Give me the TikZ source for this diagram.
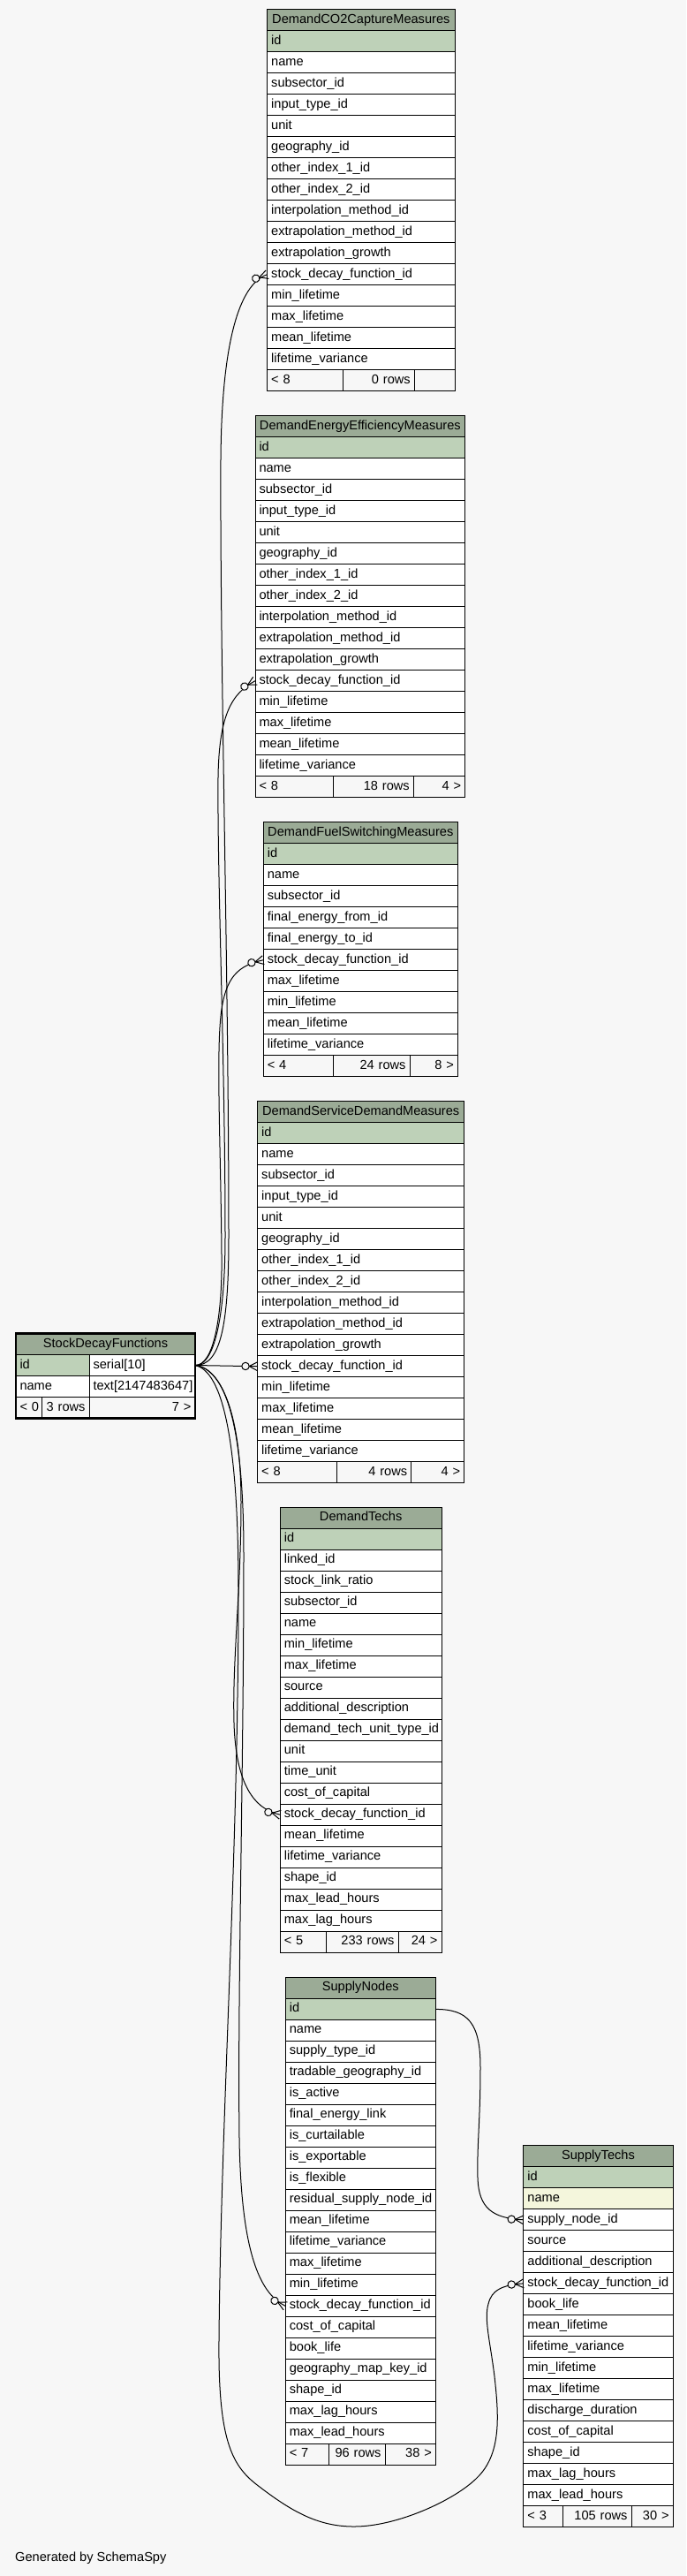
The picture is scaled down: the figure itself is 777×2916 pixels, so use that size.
\documentclass[tikz,border=0pt]{standalone}
\usepackage{fontspec}
\setmainfont{Liberation Sans}
\usepackage{tikz}
\usetikzlibrary{positioning}
\usetikzlibrary{backgrounds}
\usetikzlibrary{decorations.markings}
\definecolor{bgc}{HTML}{F7F7F7}
\definecolor{hdc}{HTML}{9BAB96}
\definecolor{pkc}{HTML}{BED1B8}
\definecolor{ixc}{HTML}{F4F6DC}
\definecolor{ftc}{HTML}{F7F7F7}
\hyphenpenalty=10000
\tikzset{every picture/.style={line width=1pt,show background rectangle,inner frame sep=0pt},background rectangle/.style={fill=bgc}}

\begin{document}
\begin{tikzpicture}[x=1pt,y=-1pt,font=\fontsize{14.6pt}{17pt}\selectfont,
	cell/.style={draw,outer sep=0pt,inner xsep=4.5pt,inner ysep=0pt,minimum height=24pt,text height=11pt,text depth=4pt},
	hd/.style={cell,fill=hdc,minimum width=#1},
	pk/.style={cell,fill=pkc,text width=#1,align=left},
	col/.style={cell,fill=white,text width=#1,align=left},
	ix/.style={cell,fill=ixc,text width=#1,align=left},
	ftl/.style={cell,fill=ftc,text width=#1,align=left},
	ftr/.style={cell,fill=ftc,text width=#1,align=right},
	rel/.style={postaction={decorate,decoration={markings,mark=at position 0 with {\draw (9.5pt,0pt) -- (0pt,5pt) (9.5pt,0pt) -- (0pt,-5pt); \draw[fill=bgc] (13.7pt,0pt) circle (4.2pt);}}}}]
\useasboundingbox (0,0) rectangle (777,2916);

% DemandCO2CaptureMeasures
\node[hd=212.3pt] (co2) at (408.85,22.7) {DemandCO2CaptureMeasures};
\node[pk=203.3pt,below=0pt of co2] (co2-1) {id};
\foreach \c [count=\i from 2,remember=\i as \j (initially 1)] in {name,subsector\_id,input\_type\_id,unit,geography\_id,other\_index\_1\_id,other\_index\_2\_id,interpolation\_method\_id,extrapolation\_method\_id,extrapolation\_growth,stock\_decay\_function\_id,min\_lifetime,max\_lifetime,mean\_lifetime,lifetime\_variance} {
\node[col=203.3pt,below=0pt of co2-\j] (co2-\i) {\c};
}
\node[ftl=76.6pt,below right=0pt and 0pt of co2-16.south west] (co2-f1) {<~8};
\node[ftr=72pt,right=0pt of co2-f1] (co2-f2) {0~rows};
\node[ftr=36.7pt,right=0pt of co2-f2] (co2-f3) {};

% DemandEnergyEfficiencyMeasures
\node[hd=237.7pt] (ee) at (407.85,482.7) {DemandEnergyEfficiencyMeasures};
\node[pk=228.7pt,below=0pt of ee] (ee-1) {id};
\foreach \c [count=\i from 2,remember=\i as \j (initially 1)] in {name,subsector\_id,input\_type\_id,unit,geography\_id,other\_index\_1\_id,other\_index\_2\_id,interpolation\_method\_id,extrapolation\_method\_id,extrapolation\_growth,stock\_decay\_function\_id,min\_lifetime,max\_lifetime,mean\_lifetime,lifetime\_variance} {
\node[col=228.7pt,below=0pt of ee-\j] (ee-\i) {\c};
}
\node[ftl=79.3pt,below right=0pt and 0pt of ee-16.south west] (ee-f1) {<~8};
\node[ftr=82pt,right=0pt of ee-f1] (ee-f2) {18~rows};
\node[ftr=49.4pt,right=0pt of ee-f2] (ee-f3) {4~>};

% DemandFuelSwitchingMeasures
\node[hd=220pt] (fs) at (408.3,942.7) {DemandFuelSwitchingMeasures};
\node[pk=211pt,below=0pt of fs] (fs-1) {id};
\foreach \c [count=\i from 2,remember=\i as \j (initially 1)] in {name,subsector\_id,final\_energy\_from\_id,final\_energy\_to\_id,stock\_decay\_function\_id,max\_lifetime,min\_lifetime,mean\_lifetime,lifetime\_variance} {
\node[col=211pt,below=0pt of fs-\j] (fs-\i) {\c};
}
\node[ftl=70pt,below right=0pt and 0pt of fs-10.south west] (fs-f1) {<~4};
\node[ftr=77.7pt,right=0pt of fs-f1] (fs-f2) {24~rows};
\node[ftr=45.3pt,right=0pt of fs-f2] (fs-f3) {8~>};

% DemandServiceDemandMeasures
\node[hd=234pt] (sd) at (408.7,1258.7) {DemandServiceDemandMeasures};
\node[pk=225pt,below=0pt of sd] (sd-1) {id};
\foreach \c [count=\i from 2,remember=\i as \j (initially 1)] in {name,subsector\_id,input\_type\_id,unit,geography\_id,other\_index\_1\_id,other\_index\_2\_id,interpolation\_method\_id,extrapolation\_method\_id,extrapolation\_growth,stock\_decay\_function\_id,min\_lifetime,max\_lifetime,mean\_lifetime,lifetime\_variance} {
\node[col=225pt,below=0pt of sd-\j] (sd-\i) {\c};
}
\node[ftl=80.3pt,below right=0pt and 0pt of sd-16.south west] (sd-f1) {<~8};
\node[ftr=75.7pt,right=0pt of sd-f1] (sd-f2) {4~rows};
\node[ftr=51pt,right=0pt of sd-f2] (sd-f3) {4~>};

% StockDecayFunctions
\node[hd=203pt] (sdf) at (119.5,1521.5) {StockDecayFunctions};
\node[pk=74pt,below right=0pt and 0pt of sdf.south west] (sdf-1a) {id};
\node[col=111pt,right=0pt of sdf-1a] (sdf-1b) {serial[10]};
\node[col=74pt,below=0pt of sdf-1a] (sdf-2a) {name};
\node[col=111pt,right=0pt of sdf-2a] (sdf-2b) {text[2147483647]};
\node[ftl=20.7pt,below right=0pt and 0pt of sdf-2a.south west] (sdf-f1) {<~0};
\node[ftr=44.3pt,right=0pt of sdf-f1] (sdf-f2) {3~rows};
\node[ftr=111pt,right=0pt of sdf-f2] (sdf-f3) {7~>};
\draw[line width=2.5pt] (sdf.north west) rectangle (sdf-f3.south east);

% DemandTechs
\node[hd=182.7pt] (dt) at (408.65,1718.2) {DemandTechs};
\node[pk=173.7pt,below=0pt of dt] (dt-1) {id};
\foreach \c [count=\i from 2,remember=\i as \j (initially 1)] in {linked\_id,stock\_link\_ratio,subsector\_id,name,min\_lifetime,max\_lifetime,source,additional\_description,demand\_tech\_unit\_type\_id,unit,time\_unit,cost\_of\_capital,stock\_decay\_function\_id,mean\_lifetime,lifetime\_variance,shape\_id,max\_lead\_hours,max\_lag\_hours} {
\node[col=173.7pt,below=0pt of dt-\j] (dt-\i) {\c};
}
\node[ftl=43pt,below right=0pt and 0pt of dt-19.south west] (dt-f1) {<~5};
\node[ftr=72.7pt,right=0pt of dt-f1] (dt-f2) {233~rows};
\node[ftr=40pt,right=0pt of dt-f2] (dt-f3) {24~>};

% SupplyNodes
\node[hd=170pt] (sn) at (408.3,2250.4) {SupplyNodes};
\node[pk=161pt,below=0pt of sn] (sn-1) {id};
\foreach \c [count=\i from 2,remember=\i as \j (initially 1)] in {name,supply\_type\_id,tradable\_geography\_id,is\_active,final\_energy\_link,is\_curtailable,is\_exportable,is\_flexible,residual\_supply\_node\_id,mean\_lifetime,lifetime\_variance,max\_lifetime,min\_lifetime,stock\_decay\_function\_id,cost\_of\_capital,book\_life,geography\_map\_key\_id,shape\_id,max\_lag\_hours,max\_lead\_hours} {
\node[col=161pt,below=0pt of sn-\j] (sn-\i) {\c};
}
\node[ftl=40.4pt,below right=0pt and 0pt of sn-21.south west] (sn-f1) {<~7};
\node[ftr=54.3pt,right=0pt of sn-f1] (sn-f2) {96~rows};
\node[ftr=48.3pt,right=0pt of sn-f2] (sn-f3) {38~>};

% SupplyTechs
\node[hd=169.2pt] (st) at (677.5,2440.8) {SupplyTechs};
\node[pk=160.2pt,below=0pt of st] (st-1) {id};
\node[ix=160.2pt,below=0pt of st-1] (st-2) {name};
\foreach \c [count=\i from 3,remember=\i as \j (initially 2)] in {supply\_node\_id,source,additional\_description,stock\_decay\_function\_id,book\_life,mean\_lifetime,lifetime\_variance,min\_lifetime,max\_lifetime,discharge\_duration,cost\_of\_capital,shape\_id,max\_lag\_hours,max\_lead\_hours} {
\node[col=160.2pt,below=0pt of st-\j] (st-\i) {\c};
}
\node[ftl=35.6pt,below right=0pt and 0pt of st-16.south west] (st-f1) {<~3};
\node[ftr=68.5pt,right=0pt of st-f1] (st-f2) {105~rows};
\node[ftr=38.1pt,right=0pt of st-f2] (st-f3) {30~>};

% relations (drawn from the many side)
\draw[rel] (co2-12.west) .. controls (270,322) and (251,390) .. (250,520) .. controls (249,750) and (259,1100) .. (259,1400) .. controls (259,1500) and (250,1546) .. (sdf-1b.east);
\draw[rel] (ee-12.west) .. controls (262,785) and (248,810) .. (247,880) .. controls (246,1000) and (255,1200) .. (255,1400) .. controls (255,1480) and (245,1546) .. (sdf-1b.east);
\draw[rel] (fs-6.west) .. controls (270,1093) and (255,1105) .. (250,1150) .. controls (245,1200) and (250,1300) .. (251,1420) .. controls (252,1490) and (242,1546) .. (sdf-1b.east);
\draw[rel] (sd-12.west) -- (sdf-1b.east);
\draw[rel] (dt-14.west) .. controls (288,2048) and (267,2020) .. (265,1950) .. controls (263,1880) and (273,1800) .. (273,1700) .. controls (273,1600) and (250,1548) .. (sdf-1b.east);
\draw[rel] (sn-15.west) .. controls (298,2598) and (273,2560) .. (271,2420) .. controls (269,2250) and (276,2000) .. (276,1760) .. controls (276,1610) and (255,1550) .. (sdf-1b.east);
\draw[rel] (st-6.west) .. controls (568,2587) and (557,2592) .. (553,2608) .. controls (548,2625) and (555,2650) .. (560,2690) .. controls (565,2735) and (568,2778) .. (540,2805) .. controls (515,2830) and (450,2860) .. (401,2860) .. controls (360,2860) and (330,2843) .. (290,2812) .. controls (262,2790) and (247,2760) .. (248,2650) .. controls (250,2400) and (270,2100) .. (270,1800) .. controls (270,1630) and (252,1552) .. (sdf-1b.east);
\draw[rel] (st-3.west) .. controls (558,2511) and (542,2500) .. (541,2465) .. controls (540,2430) and (544,2400) .. (544,2340) .. controls (544,2290) and (530,2274.4) .. (sn-1.east);

\node[anchor=base west,inner sep=0pt] (gen) at (16.7,2899.3) {Generated by SchemaSpy};
\end{tikzpicture}
\end{document}
